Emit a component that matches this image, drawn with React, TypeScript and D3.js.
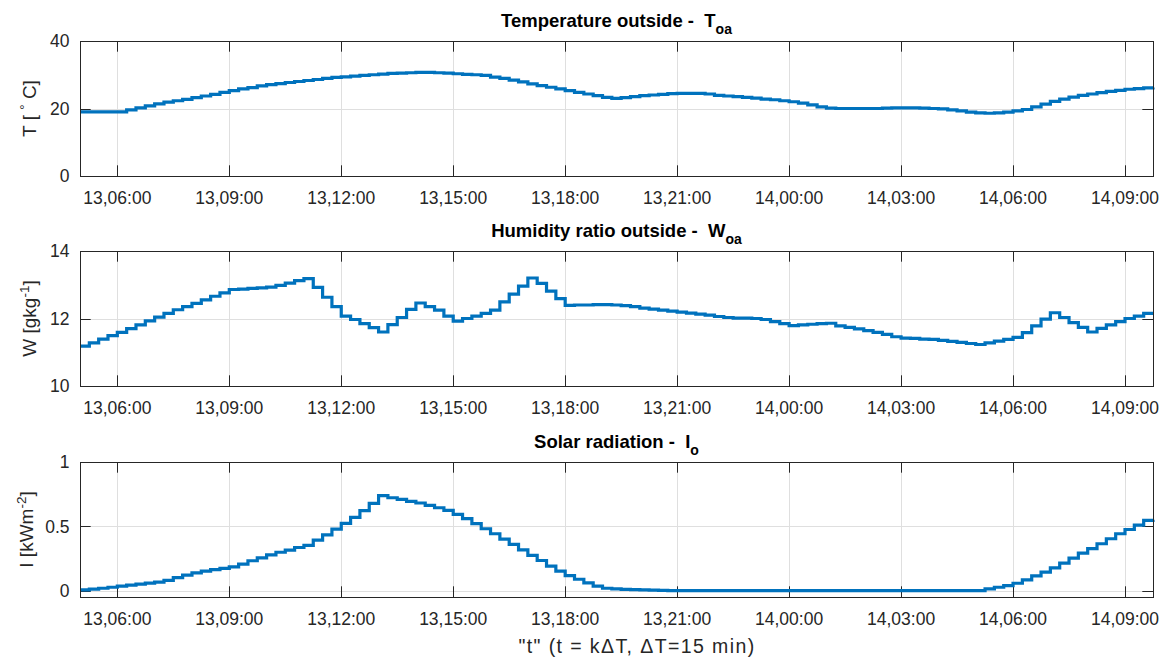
import React, { useEffect, useRef } from "react";
import * as d3 from "d3";

// 15 min samples from 13,05:00 to 14,09:45
const T_START = "13,05:00";
const T_END = "14,09:45";
const STEP_MIN = 15;

const T_OA = [
  19.0, 19.0, 19.0, 19.0, 19.0, 19.6, 20.2, 20.8, 21.4, 21.9, 22.3, 22.7, 23.2, 23.7, 24.2, 24.8,
  25.3, 25.8, 26.2, 26.7, 27.1, 27.4, 27.7, 28.0, 28.3, 28.6, 28.9, 29.2, 29.4, 29.6, 29.8, 30.0,
  30.2, 30.4, 30.5, 30.6, 30.7, 30.7, 30.6, 30.5, 30.3, 30.1, 30.0, 29.8, 29.3, 28.9, 28.4, 27.9,
  27.3, 26.8, 26.3, 25.8, 25.3, 24.8, 24.3, 23.8, 23.3, 23.0, 23.2, 23.5, 23.8, 24.0, 24.2, 24.4,
  24.5, 24.5, 24.5, 24.3, 23.9, 23.7, 23.5, 23.3, 23.1, 22.8, 22.6, 22.3, 22.0, 21.6, 21.1, 20.5,
  20.1, 20.0, 20.0, 20.0, 20.0, 20.0, 20.1, 20.2, 20.2, 20.2, 20.1, 20.0, 19.9, 19.6, 19.3, 18.9,
  18.7, 18.6, 18.7, 18.9, 19.3, 19.7, 20.5, 21.3, 22.1, 22.8, 23.4, 23.9, 24.3, 24.7, 25.1, 25.4,
  25.7, 25.9, 26.1, 26.2,
];

const W_OA = [
  11.18, 11.28, 11.39, 11.49, 11.59, 11.7, 11.81, 11.93, 12.04, 12.15, 12.26, 12.35, 12.45, 12.55, 12.66, 12.76,
  12.86, 12.87, 12.89, 12.91, 12.93, 12.98, 13.05, 13.12, 13.18, 12.92, 12.63, 12.35, 12.07, 11.97, 11.85, 11.73,
  11.6, 11.82, 12.03, 12.27, 12.46, 12.35, 12.25, 12.07, 11.92, 12.0, 12.07, 12.15, 12.25, 12.49, 12.72, 12.96,
  13.2, 13.04, 12.81, 12.59, 12.39, 12.4, 12.4, 12.41, 12.41, 12.4, 12.38, 12.35, 12.31, 12.28, 12.25, 12.22,
  12.19, 12.16, 12.13, 12.1, 12.06, 12.03, 12.01, 12.01, 12.0, 11.97, 11.91, 11.85, 11.79, 11.81, 11.83, 11.85,
  11.86, 11.78, 11.74, 11.69, 11.64, 11.59, 11.53, 11.46, 11.42, 11.41, 11.39, 11.38, 11.35, 11.32, 11.29, 11.26,
  11.23, 11.28, 11.33, 11.38, 11.44, 11.58, 11.78, 11.98, 12.17, 12.03, 11.88, 11.74, 11.6, 11.71, 11.81, 11.91,
  12.0, 12.07, 12.15, 12.15,
];

const I_O = [
  0.005, 0.012, 0.018, 0.026, 0.035, 0.042, 0.05, 0.058, 0.066, 0.08, 0.1, 0.12, 0.138, 0.152, 0.163, 0.172,
  0.185, 0.205, 0.232, 0.255, 0.278, 0.298, 0.315, 0.335, 0.352, 0.392, 0.433, 0.478, 0.522, 0.57, 0.622, 0.678,
  0.738, 0.722, 0.709, 0.694, 0.681, 0.663, 0.644, 0.624, 0.592, 0.559, 0.52, 0.481, 0.442, 0.4, 0.359, 0.317,
  0.273, 0.234, 0.19, 0.151, 0.117, 0.088, 0.06, 0.034, 0.018, 0.013, 0.01, 0.008, 0.006, 0.004, 0.002, 0,
  0, 0, 0, 0, 0, 0, 0, 0, 0, 0, 0, 0, 0, 0, 0, 0,
  0, 0, 0, 0, 0, 0, 0, 0, 0, 0, 0, 0, 0, 0, 0, 0,
  0, 0.013, 0.026, 0.039, 0.057, 0.083, 0.114, 0.143, 0.177, 0.213, 0.252, 0.291, 0.327, 0.364, 0.403, 0.442,
  0.475, 0.509, 0.546, 0.55,
];

const X_TICK_LABELS = [
  "13,06:00", "13,09:00", "13,12:00", "13,15:00", "13,18:00",
  "13,21:00", "14,00:00", "14,03:00", "14,06:00", "14,09:00",
];

const T_TICKS = [0, 20, 40];
const W_TICKS = [10, 12, 14];
const I_TICKS = [0, 0.5, 1];

const FONT = "'Liberation Sans', Arial, Helvetica, sans-serif";
const INK = "#262626";
const BLUE = "#0072BD";

export default function App() {
  const ref = useRef<SVGSVGElement>(null);

  useEffect(() => {
    const svg = d3.select(ref.current);
    svg.selectAll("*").remove();

    const parse = d3.timeParse("%d,%H:%M");
    const fmt = d3.timeFormat("%d,%H:%M");
    const start = parse(T_START) as Date;
    const end = parse(T_END) as Date;
    const xTicks = X_TICK_LABELS.map((s) => parse(s) as Date);

    const left = 80, right = 1153, tickLen = 10.7;
    const x = d3.scaleTime().domain([start, end]).range([left, right]);

    const panels = [
      { title: "Temperature outside -  T", sub: "oa", values: T_OA, domain: [0, 40], ticks: T_TICKS,
        label: ["T [ ", "°", " C]"], top: 41, bottom: 176, labelX: 36 },
      { title: "Humidity ratio outside -  W", sub: "oa", values: W_OA, domain: [10, 14], ticks: W_TICKS,
        label: ["W [gkg", "-1", "]"], top: 251, bottom: 386, labelX: 36 },
      { title: "Solar radiation -  I", sub: "o", values: I_O, domain: [-0.05, 1], ticks: I_TICKS,
        label: ["I [kWm", "-2", "]"], top: 462, bottom: 597, labelX: 33 },
    ];

    panels.forEach((p) => {
      const y = d3.scaleLinear().domain(p.domain).range([p.bottom, p.top]);
      const g = svg.append("g");

      // grid
      g.selectAll(".xgrid")
        .data(xTicks)
        .join("line")
        .attr("x1", (d) => Math.round(x(d)) + 0.5)
        .attr("x2", (d) => Math.round(x(d)) + 0.5)
        .attr("y1", p.top)
        .attr("y2", p.bottom)
        .attr("stroke", "#dfdfdf")
        .attr("stroke-width", 1);
      g.selectAll(".ygrid")
        .data(p.ticks)
        .join("line")
        .attr("x1", left)
        .attr("x2", right)
        .attr("y1", (d) => Math.round(y(d)) + 0.5)
        .attr("y2", (d) => Math.round(y(d)) + 0.5)
        .attr("stroke", "#dfdfdf")
        .attr("stroke-width", 1);

      // ticks, inward on all four sides
      const tk = g.append("g").attr("stroke", INK).attr("stroke-width", 1);
      xTicks.forEach((d) => {
        const xx = Math.round(x(d)) + 0.5;
        tk.append("line").attr("x1", xx).attr("x2", xx).attr("y1", p.bottom).attr("y2", p.bottom - tickLen);
        tk.append("line").attr("x1", xx).attr("x2", xx).attr("y1", p.top).attr("y2", p.top + tickLen);
      });
      p.ticks.forEach((d) => {
        const yy = Math.round(y(d)) + 0.5;
        tk.append("line").attr("x1", left).attr("x2", left + tickLen).attr("y1", yy).attr("y2", yy);
        tk.append("line").attr("x1", right).attr("x2", right - tickLen).attr("y1", yy).attr("y2", yy);
      });

      // stairs
      const pts = p.values.map((v, k) => [d3.timeMinute.offset(start, STEP_MIN * k), v] as [Date, number]);
      const line = d3.line<[Date, number]>()
        .x((d) => x(d[0]))
        .y((d) => y(d[1]))
        .curve(d3.curveStepAfter);
      g.append("path")
        .datum(pts)
        .attr("fill", "none")
        .attr("stroke", BLUE)
        .attr("stroke-width", 3.2)
        .attr("d", line);

      // box
      g.append("rect")
        .attr("x", left + 0.5)
        .attr("y", p.top + 0.5)
        .attr("width", right - left)
        .attr("height", p.bottom - p.top)
        .attr("fill", "none")
        .attr("stroke", INK)
        .attr("stroke-width", 1);

      // tick labels
      g.selectAll(".xlab")
        .data(xTicks)
        .join("text")
        .attr("x", (d) => x(d))
        .attr("y", p.bottom + 28)
        .attr("text-anchor", "middle")
        .attr("font-family", FONT)
        .attr("font-size", 17.5)
        .attr("fill", INK)
        .text((d) => fmt(d));
      g.selectAll(".ylab")
        .data(p.ticks)
        .join("text")
        .attr("x", left - 10.5)
        .attr("y", (d) => y(d) + 6.3)
        .attr("text-anchor", "end")
        .attr("font-family", FONT)
        .attr("font-size", 17.5)
        .attr("fill", INK)
        .text((d) => String(d));

      // title
      const t = g.append("text")
        .attr("x", (left + right) / 2)
        .attr("y", p.top - 14)
        .attr("text-anchor", "middle")
        .attr("font-family", FONT)
        .attr("font-weight", "bold")
        .attr("font-size", 18.5)
        .attr("fill", "#000")
        .style("white-space", "pre");
      t.append("tspan").text(p.title);
      t.append("tspan").attr("dy", 6.6).attr("font-size", 14).text(p.sub);

      // y label
      const cy = (p.top + p.bottom) / 2;
      const yl = g.append("text")
        .attr("transform", `translate(${p.labelX},${cy}) rotate(-90)`)
        .attr("text-anchor", "middle")
        .attr("font-family", FONT)
        .attr("font-size", 19)
        .attr("fill", INK)
        .style("white-space", "pre");
      yl.append("tspan").text(p.label[0]);
      yl.append("tspan").attr("dy", -7).attr("font-size", 13.5).text(p.label[1]);
      yl.append("tspan").attr("dy", 7).text(p.label[2]);
    });

    svg.append("text")
      .attr("x", 637)
      .attr("y", 653)
      .attr("text-anchor", "middle")
      .attr("font-family", FONT)
      .attr("font-size", 19.5)
      .attr("letter-spacing", 1.4)
      .attr("fill", INK)
      .style("white-space", "pre")
      .text("\"t\" (t = kΔT, ΔT=15 min)");
  }, []);

  return (
    <div style={{ position: "absolute", left: 0, top: 0 }}>
      <svg ref={ref} width={1167} height={658} style={{ display: "block", background: "#fff" }} />
    </div>
  );
}
